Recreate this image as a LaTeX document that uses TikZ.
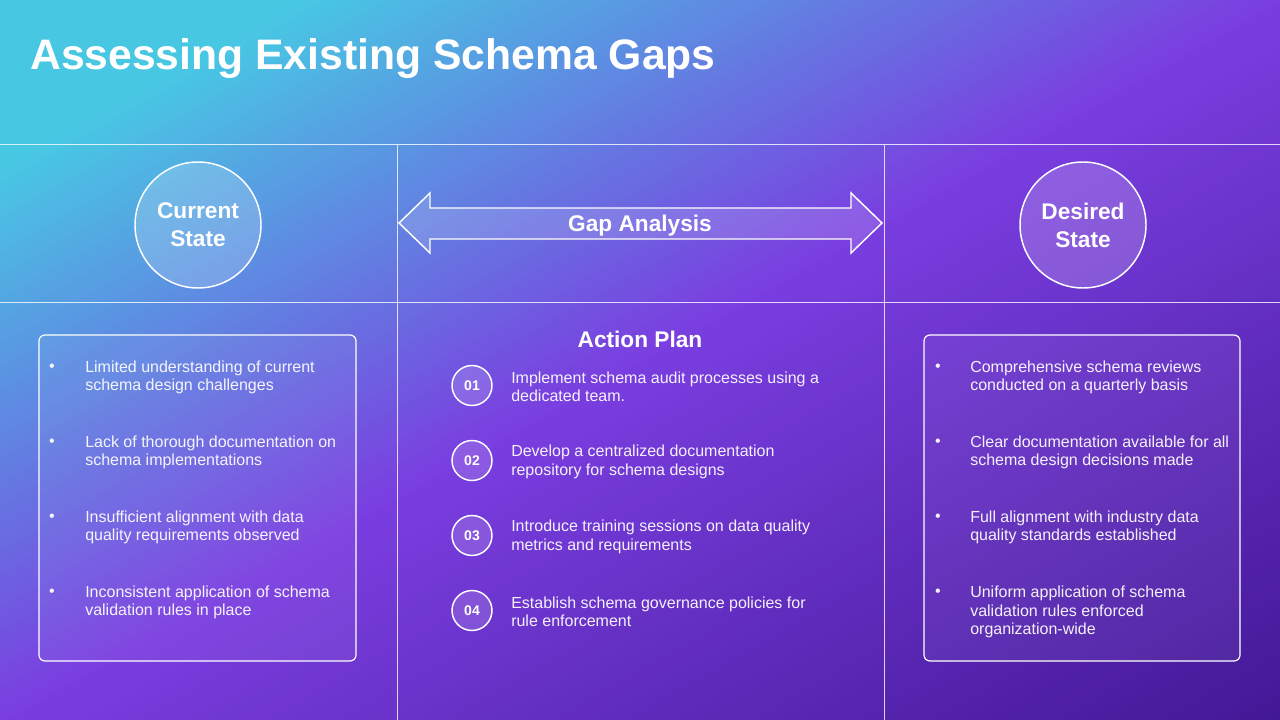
\documentclass[tikz,border=0pt]{standalone}
\usepackage{fontspec}
\setmainfont{Liberation Sans}
\definecolor{bgA}{HTML}{48C7E3}
\definecolor{bgB}{HTML}{7A3EE0}
\definecolor{bgC}{HTML}{431896}
\tikzset{
  gridline/.style={draw=white, draw opacity=0.8, line width=0.75pt},
  stcirc/.style={circle, draw=white, line width=1.1pt, fill=white, fill opacity=0.18, text opacity=1, text=white, minimum size=94.5pt, inner sep=0pt, align=center, font=\bfseries\fontsize{17}{21}\selectfont},
  numcirc/.style={circle, draw=white, line width=1.1pt, fill=white, fill opacity=0.15, text opacity=1, text=white, minimum size=30pt, inner sep=0pt, font=\bfseries\fontsize{10.5}{12}\selectfont},
  panel/.style={draw=white, line width=0.9pt, rounded corners=4.5pt, fill=white, fill opacity=0.05, inner sep=0pt},
  itemtext/.style={anchor=west, align=left, inner sep=0pt, text=white, text opacity=0.93, font=\fontsize{12}{13.9}\selectfont},
  bul/.style={inner sep=0pt, text=white, text opacity=0.93, font=\fontsize{12}{13.9}\selectfont},
  heading/.style={text=white, inner sep=0pt, font=\bfseries\fontsize{17}{21}\selectfont},
  arrowshape/.style={draw=white, line width=1.1pt, fill=white, fill opacity=0.15, line join=miter}
}
\begin{document}
\begin{tikzpicture}[x=0.75pt, y=-0.75pt]
\useasboundingbox (0,0) rectangle (1280,720);
% diagonal gradient background, drawn as overlapping bands
\begin{scope}
\clip (0,0) rectangle (1280,720);
\foreach \i in {0,...,126}{
  \pgfmathsetmacro{\u}{(\i*10+5)/1255}
  \pgfmathsetmacro{\pab}{max(0,min(100,(\u-0.12)/0.38*100))}
  \pgfmathsetmacro{\pbc}{max(0,min(100,(\u-0.5)/0.5*100))}
  \ifdim\u pt<0.5pt \colorlet{bandcol}{bgB!\pab!bgA}\else\colorlet{bandcol}{bgC!\pbc!bgB}\fi
  \fill[bandcol, rotate=-60.6] (\i*10,-2000) rectangle (1500,2000);
}
\end{scope}

% title
\node[anchor=base west, inner sep=0pt, text=white, font=\bfseries\fontsize{32}{38}\selectfont] (title) at (30,69.5) {Assessing Existing Schema Gaps};

% grid
\coordinate (hl1) at (0,145); \coordinate (hr1) at (1280,145);
\coordinate (hl2) at (0,302); \coordinate (hr2) at (1280,302);
\coordinate (v1t) at (397,145); \coordinate (v1b) at (397,720);
\coordinate (v2t) at (884,145); \coordinate (v2b) at (884,720);
\draw[gridline] (hl1) -- (hr1);
\draw[gridline] (hl2) -- (hr2);
\draw[gridline] (v1t) -- (v1b);
\draw[gridline] (v2t) -- (v2b);

% state circles
\node[stcirc] (cur) at (198,225) {Current\\State};
\node[stcirc] (des) at (1083,225) {Desired\\State};

% gap analysis double arrow
\draw[arrowshape] (399,223) -- (430,193) -- (430,208) -- (851,208) -- (851,193) -- (882,223) -- (851,253) -- (851,239) -- (430,239) -- (430,253) -- cycle;
\node[heading] (gap) at (640,226) {Gap Analysis};

% left panel
\node[panel, minimum width=237.75pt, minimum height=244.5pt] (lpanel) at (197.5,498) {};
\node[bul] (lb1) at (52,368) {•};
\node[bul] (lb2) at (52,443) {•};
\node[bul] (lb3) at (52,518) {•};
\node[bul] (lb4) at (52,593) {•};
\node[itemtext] (lt1) at (85,377.25) {Limited understanding of current\\schema design challenges};
\node[itemtext] (lt2) at (85,452.25) {Lack of thorough documentation on\\schema implementations};
\node[itemtext] (lt3) at (85,527.25) {Insufficient alignment with data\\quality requirements observed};
\node[itemtext] (lt4) at (85,602.25) {Inconsistent application of schema\\validation rules in place};

% right panel
\node[panel, minimum width=237pt, minimum height=244.5pt] (rpanel) at (1082,498) {};
\node[bul] (rb1) at (938,368) {•};
\node[bul] (rb2) at (938,443) {•};
\node[bul] (rb3) at (938,518) {•};
\node[bul] (rb4) at (938,593) {•};
\node[itemtext] (rt1) at (970,377.25) {Comprehensive schema reviews\\conducted on a quarterly basis};
\node[itemtext] (rt2) at (970,452.25) {Clear documentation available for all\\schema design decisions made};
\node[itemtext] (rt3) at (970,527.25) {Full alignment with industry data\\quality standards established};
\node[itemtext] (rt4) at (970,612) {Uniform application of schema\\validation rules enforced\\organization-wide};

% action plan
\node[heading] (ap) at (640,339) {Action Plan};
\node[numcirc] (n1) at (472,385.5) {01};
\node[numcirc] (n2) at (472,460.5) {02};
\node[numcirc] (n3) at (472,535.5) {03};
\node[numcirc] (n4) at (472,610.5) {04};
\node[itemtext] (a1) at (511,387) {Implement schema audit processes using a\\dedicated team.};
\node[itemtext] (a2) at (511,462) {Develop a centralized documentation\\repository for schema designs};
\node[itemtext] (a3) at (511,537) {Introduce training sessions on data quality\\metrics and requirements};
\node[itemtext] (a4) at (511,612) {Establish schema governance policies for\\rule enforcement};
\end{tikzpicture}
\end{document}
